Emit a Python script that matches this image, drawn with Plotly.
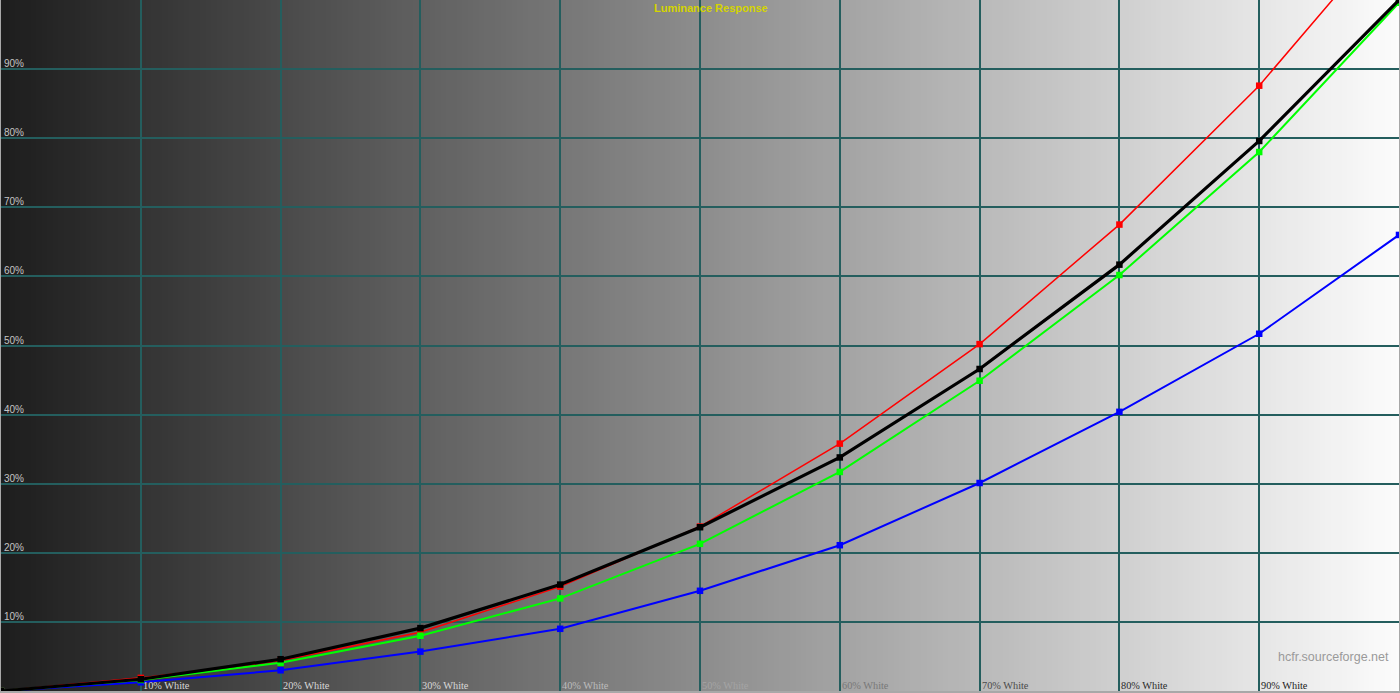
import base64
import struct
import zlib

import plotly.graph_objects as go

# ---- data (percent) ----
stimulus = [0, 10, 20, 30, 40, 50, 60, 70, 80, 90, 100]
luminance_y = [0, 1.7, 4.6, 9.1, 15.4, 23.7, 33.8, 46.6, 61.7, 79.6, 100.0]
red_resp = [0, 1.9, 4.4, 8.5, 15.1, 23.8, 35.8, 50.2, 67.5, 87.6, 111.3]
green_resp = [0, 1.6, 4.1, 8.0, 13.4, 21.3, 31.7, 44.9, 60.2, 78.0, 99.6]
blue_resp = [0, 1.26, 3.0, 5.7, 9.0, 14.5, 21.1, 30.1, 40.4, 51.7, 66.0]

y_tick_vals = [10, 20, 30, 40, 50, 60, 70, 80, 90]
y_tick_text = ["10%", "20%", "30%", "40%", "50%", "60%", "70%", "80%", "90%"]
x_tick_vals = [10, 20, 30, 40, 50, 60, 70, 80, 90]
x_tick_text = ["10% White", "20% White", "30% White", "40% White", "50% White",
               "60% White", "70% White", "80% White", "90% White"]
x_label_colors = ["#d8d8d8", "#d8d8d8", "#d8d8d8", "#bcbcbc", "#a4a4a4",
                  "#787878", "#4a4a4a", "#2a2a2a", "#1a1a1a"]


# ---- background gradient image (grayscale PNG) ----
def gradient_png(n=256, start=0x1e, end=0xfc):
    row = bytes([0] + [int(round(start + (end - start) * i / (n - 1))) for i in range(n)])
    def chunk(tag, data):
        c = struct.pack(">I", len(data)) + tag + data
        return c + struct.pack(">I", zlib.crc32(tag + data) & 0xffffffff)
    png = b"\x89PNG\r\n\x1a\n"
    png += chunk(b"IHDR", struct.pack(">IIBBBBB", n, 1, 8, 0, 0, 0, 0))
    png += chunk(b"IDAT", zlib.compress(row))
    png += chunk(b"IEND", b"")
    return "data:image/png;base64," + base64.b64encode(png).decode()


fig = go.Figure()

series = [
    ("Blue", blue_resp, "#0000ff", 2),
    ("Red", red_resp, "#ff0000", 1.5),
    ("Green", green_resp, "#00ff00", 2),
    ("Y", luminance_y, "#000000", 3.2),
]
for name, vals, col, w in series:
    fig.add_trace(go.Scatter(
        x=stimulus, y=vals, mode="lines+markers", name=name,
        line=dict(color=col, width=w),
        marker=dict(symbol="square", size=6.5, color=col),
        cliponaxis=True, hoverinfo="skip",
    ))

annotations = []
for v, t in zip(y_tick_vals, y_tick_text):
    annotations.append(dict(
        x=0.001, xref="paper", y=v, yref="y", text=t, showarrow=False,
        xanchor="left", yanchor="bottom", yshift=-2,
        font=dict(family="Liberation Sans, Arial", size=10, color="#c4c4c4"),
    ))
for v, t, c in zip(x_tick_vals, x_tick_text, x_label_colors):
    annotations.append(dict(
        x=v, xref="x", y=0, yref="y", text=t, showarrow=False,
        xanchor="left", yanchor="bottom", xshift=0, yshift=-2,
        font=dict(family="Liberation Serif, Times New Roman", size=10.3, color=c),
    ))
annotations.append(dict(
    x=50.8, xref="x", y=1.0, yref="paper", text="<b>Luminance Response</b>",
    showarrow=False, xanchor="center", yanchor="top", yshift=0,
    font=dict(family="Liberation Sans, Arial", size=11, color="#d4d400"),
))
annotations.append(dict(
    x=0.9945, xref="paper", y=4.9, yref="y", text="hcfr.sourceforge.net",
    showarrow=False, xanchor="right", yanchor="middle",
    font=dict(family="Liberation Sans, Arial", size=12.5, color="#9a9a9a"),
))

fig.update_layout(
    width=1400, height=693,
    margin=dict(l=1, r=1, t=0, b=2, pad=0),
    paper_bgcolor="#a8a8a8",
    plot_bgcolor="#808080",
    showlegend=False,
    annotations=annotations,
    images=[dict(
        source=gradient_png(), xref="paper", yref="paper", x=0, y=1,
        sizex=1, sizey=1, sizing="stretch", layer="below", xanchor="left", yanchor="top",
    )],
)
fig.update_xaxes(range=[0, 100], dtick=10, tick0=0, showticklabels=False, ticks="",
                 showgrid=True, gridcolor="#245e5e", gridwidth=1.5, zeroline=False,
                 showline=False, fixedrange=True)
fig.update_yaxes(range=[0, 100], dtick=10, tick0=0, showticklabels=False, ticks="",
                 showgrid=True, gridcolor="#245e5e", gridwidth=1.5, zeroline=False,
                 showline=False, fixedrange=True)

fig.write_html(
    "out.html",
    config={"displayModeBar": False},
    post_script="document.body.style.margin='0';document.body.style.overflow='hidden';",
)
